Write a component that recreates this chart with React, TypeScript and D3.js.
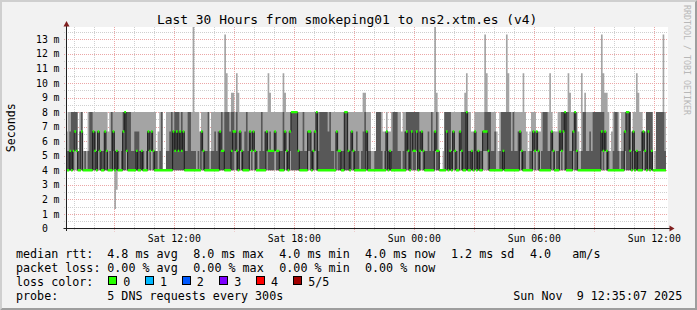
import React from "react";
import * as d3 from "d3";

// RTT level codes (ms) — DNS answers are quantised in 4/3 ms steps
const LEVEL_MS: Record<string, number> = {
  a: 1.333, b: 2.667, "0": 4.0, "1": 5.333, "2": 6.667, "3": 8.0,
  "4": 9.333, "5": 10.667, "6": 12.0, "7": 13.333, "8": 14.667,
};

// 5 sorted ping results per 300 s step (10 steps per row)
const PING_ROWS: string[] = [
  "00012 00013 00123 00033 00133 02233 01133 00011 00023 02233",
  "00001 00011 00001 00013 00033 00033 00223 00123 00013 01223",
  "00113 00013 00013 00223 00113 00002 00013 00033 01223 a0013",
  "b0113 00013 00003 00013 00233 00333 01133 00033 00033 00013",
  "00013 00023 00123 00023 00013 00113 00013 00003 00013 01223",
  "00113 01223 00113 00013 00011 00002 00013 00033 00000 00000",
  "00013 00013 00023 00033 00223 00133 00233 00133 00223 00133",
  "00223 00013 00013 00033 00033 00013 00018 00013 00003 00013",
  "00002 01223 00113 00013 00013 00033 00001 00013 00013 00023",
  "00013 00023 00223 00133 00113 00037 00035 00033 00023 00134",
  "00234 01223 00135 00014 01223 00113 00013 00023 00033 00013",
  "01223 00113 01223 00113 00013 00003 00013 00033 00013 00023",
  "01223 00115 00124 00113 00113 01223 00113 00113 00013 00013",
  "00035 01224 00113 00013 01223 00333 00333 00333 00333 00113",
  "00013 00013 00033 00013 00013 01223 01223 00013 00113 01223",
  "00333 00013 00033 00033 00033 00033 00033 00023 00033 00013",
  "00013 00003 01223 00113 00113 00013 00013 00333 00333 00113",
  "00013 01223 00113 00013 00023 00013 00003 00013 00024 00034",
  "01223 00013 00013 00001 00001 00011 00033 00033 00033 00013",
  "00002 00012 01223 00012 00112 00013 00033 00033 00033 00013",
  "00013 00002 00013 00023 01233 00133 00033 02233 00133 00133",
  "02233 00033 00123 01223 00113 00013 00013 00023 00013 00033",
  "00013 01228 00134 00113 00000 00000 00001 00033 02233 00033",
  "00133 00013 01223 00113 00013 00003 01223 00133 00033 00034",
  "00335 00013 00013 00112 00002 01223 00013 00113 00013 00013",
  "01223 01237 01235 00133 00033 00013 00013 00023 00002 00001",
  "00013 00033 00133 00033 00037 00035 00033 00013 00033 00013",
  "00013 00023 01223 00113 00015 00013 00002 00001 00012 00013",
  "01223 00113 01222 00112 00002 00013 00033 00033 00033 00013",
  "00015 01223 00112 00002 00012 00013 01223 00133 02233 00333",
  "00033 00035 00014 00013 01223 00333 00113 00002 00001 00015",
  "00033 00034 00013 00013 00023 00013 00033 00033 00033 00033",
  "00033 01237 00135 01224 00114 00013 00001 00002 00013 00033",
  "00033 00013 00001 00013 00013 01223 00333 00333 00133 00002",
  "01223 00013 00115 00014 00013 00023 01222 00112 00033 02233",
  "00033 00133 00000 00001 00033 00033 00033 00033 00037 00013",
];

const STEP_SECONDS = 300;
const DATA_START = Date.UTC(2025, 10, 8, 6, 35, 0);
const VIEW_START = Date.UTC(2025, 10, 8, 6, 35, 7);
const VIEW_END = Date.UTC(2025, 10, 9, 12, 35, 7);
const Y_MAX = 13.745;

const X_LABELS = ["Sat 12:00", "Sat 18:00", "Sun 00:00", "Sun 06:00", "Sun 12:00"];
const X_LABEL_TIMES = [
  Date.UTC(2025, 10, 8, 12), Date.UTC(2025, 10, 8, 18),
  Date.UTC(2025, 10, 9, 0), Date.UTC(2025, 10, 9, 6), Date.UTC(2025, 10, 9, 12),
];
const Y_TICKS = [0, 1, 2, 3, 4, 5, 6, 7, 8, 9, 10, 11, 12, 13];

const TITLE = "Last 30 Hours from smokeping01 to ns2.xtm.es (v4)";
const RTT_STATS = ["4.8 ms avg", "8.0 ms max", "4.0 ms min", "4.0 ms now", "1.2 ms sd", "4.0", "am/s"];
const LOSS_STATS = ["0.00 % avg", "0.00 % max", "0.00 % min", "0.00 % now"];
const LOSS_LABELS = ["0", "1", "2", "3", "4", "5/5"];
const LOSS_COLORS = ["#26ff00", "#00b8ff", "#0059ff", "#7e00ff", "#ff0000", "#a10000"];
const PROBE_TEXT = "5 DNS requests every 300s";
const DATE_TEXT = "Sun Nov  9 12:35:07 2025";

const MONO = "'DejaVu Sans Mono', monospace";

type Step = { t: number; p: number[] };

export default function App() {
  const W = 697, H = 310;
  const x = d3.scaleUtc().domain([VIEW_START, VIEW_END]).range([66, 666]);
  const y = d3.scaleLinear().domain([0, Y_MAX]).range([228.5, 28.5]);

  const codes = PING_ROWS.join(" ").split(" ");
  const steps: Step[] = codes.map((c, i) => ({
    t: DATA_START + i * STEP_SECONDS * 1000,
    p: c.split("").map((ch) => LEVEL_MS[ch]),
  }));
  const last = steps[steps.length - 1];
  const pts: Step[] = [...steps, { t: last.t + STEP_SECONDS * 1000, p: last.p }];

  const light = d3.area<Step>().curve(d3.curveStepAfter)
    .x((d) => x(d.t)).y0((d) => y(d.p[0])).y1((d) => y(d.p[4]));
  const dark = d3.area<Step>().curve(d3.curveStepAfter)
    .x((d) => x(d.t)).y0((d) => y(d.p[1])).y1((d) => y(d.p[3]));
  const medLine = d3.line<Step>().curve(d3.curveStepAfter)
    .x((d) => x(d.t)).y((d) => y(d.p[2]));
  const medBand = d3.area<Step>().curve(d3.curveStepAfter)
    .x((d) => x(d.t)).y0((d) => y(d.p[2]) + 1.2).y1((d) => y(d.p[2]) - 1.2);

  const hours = d3.utcHour.range(VIEW_START, VIEW_END);
  const halfTicks = d3.range(0.5, 13.6, 0.5);
  const snap = (v: number) => Math.round(v) + 0.5;

  const minorCol = "#cfcfcf";
  const majorCol = "#eba6a6";

  const legendX = [107.3, 193.3, 279.3, 365, 451, 530, 572.3];
  const boxX = [108.3, 145, 182.3, 219, 255.7, 293.3];
  const boxLabelX = [123.3, 160, 196.7, 234.3, 271, 308.3];

  return (
    <svg width={W} height={H} style={{ position: "absolute", left: 0, top: 0 }}
      fontFamily={MONO}>
      <defs>
        <clipPath id="plot">
          <rect x={66} y={27} width={602} height={201.5} />
        </clipPath>
      </defs>
      <rect x={0} y={0} width={W} height={H} fill="#f2f2f2" />
      <polygon points={`0,0 ${W},0 ${W - 2},2 2,2 2,${H - 2} 0,${H}`} fill="#cfcfcf" />
      <polygon points={`${W},0 ${W},${H} 0,${H} 2,${H - 2} ${W - 2},${H - 2} ${W - 2},2`} fill="#9e9e9e" />

      <rect x={66} y={27} width={602} height={201.5} fill="#ffffff" />

      {/* grid */}
      <g strokeDasharray="1,1" strokeWidth={1} fill="none">
        {halfTicks.filter((v) => v % 1 !== 0).map((v) => (
          <line key={"hm" + v} x1={64} x2={668} y1={snap(y(v))} y2={snap(y(v))} stroke={minorCol} />
        ))}
        {hours.filter((h) => h.getUTCHours() % 3 !== 0).map((h) => (
          <line key={"vm" + +h} x1={snap(x(h))} x2={snap(x(h))} y1={27} y2={230.5} stroke={minorCol} />
        ))}
        {Y_TICKS.filter((v) => v > 0).map((v) => (
          <line key={"hM" + v} x1={64} x2={668} y1={snap(y(v))} y2={snap(y(v))} stroke={majorCol} />
        ))}
        {hours.filter((h) => h.getUTCHours() % 3 === 0).map((h) => (
          <line key={"vM" + +h} x1={snap(x(h))} x2={snap(x(h))} y1={27} y2={231.5} stroke={majorCol} />
        ))}
      </g>

      {/* smoke */}
      <g clipPath="url(#plot)">
        <path d={light(pts) || ""} fill="#a4a4a4" />
        <path d={dark(pts) || ""} fill="#585858" />
        <path d={medLine(pts) || ""} fill="none" stroke="#1a1a1a" strokeWidth={1} />
        <path d={medBand(pts) || ""} fill={LOSS_COLORS[0]} />
      </g>

      {/* axes */}
      <line x1={63.5} x2={670} y1={228.5} y2={228.5} stroke="#1f1f1f" strokeWidth={1} />
      <line x1={66.5} x2={66.5} y1={231} y2={25} stroke="#1f1f1f" strokeWidth={1} />
      <polygon points="674.5,228.5 669.5,225.5 669.5,231.5" fill="#801f1f" />
      <polygon points="66.5,21 63.5,26.5 69.5,26.5" fill="#801f1f" />

      {/* y labels */}
      <g fontSize={9.8} fill="#000">
        {Y_TICKS.map((v) => (
          <g key={"yl" + v}>
            <text x={47.8} y={y(v) + 3.6} textAnchor="end">{String(v)}</text>
            {v > 0 && <text x={53.6} y={y(v) + 3.6}>m</text>}
          </g>
        ))}
      </g>

      {/* x labels */}
      <g fontSize={9.8} fill="#000">
        {X_LABELS.map((l, i) => (
          <text key={l} x={x(X_LABEL_TIMES[i])} y={241.5} textAnchor="middle">{l}</text>
        ))}
      </g>

      <text x={347.2} y={23.5} fontSize={12.9} textAnchor="middle" fill="#000">{TITLE}</text>
      <text transform="translate(15,127.7) rotate(-90)" fontSize={11.6} textAnchor="middle" fill="#000">Seconds</text>
      <text transform="translate(683.5,5) rotate(90)" fontSize={8.3} fill="#b8b8b8">RRDTOOL / TOBI OETIKER</text>

      {/* legend */}
      <g fontSize={11.7} fill="#000">
        <text x={16} y={258}>median rtt:</text>
        {RTT_STATS.map((s, i) => (
          <text key={"r" + i} x={legendX[i]} y={258}>{s}</text>
        ))}
        <text x={16} y={272}>packet loss:</text>
        {LOSS_STATS.map((s, i) => (
          <text key={"l" + i} x={legendX[i]} y={272}>{s}</text>
        ))}
        <text x={16} y={286}>loss color:</text>
        {LOSS_LABELS.map((s, i) => (
          <g key={"c" + i}>
            <rect x={Math.round(boxX[i]) + 0.5} y={276.5} width={8} height={8}
              fill={LOSS_COLORS[i]} stroke="#000" strokeWidth={1} />
            <text x={boxLabelX[i]} y={286}>{s}</text>
          </g>
        ))}
        <text x={16} y={300}>probe:</text>
        <text x={107.3} y={300}>{PROBE_TEXT}</text>
        <text x={513.3} y={300} xmlSpace="preserve" style={{ whiteSpace: "pre" }}>{DATE_TEXT}</text>
      </g>
    </svg>
  );
}
